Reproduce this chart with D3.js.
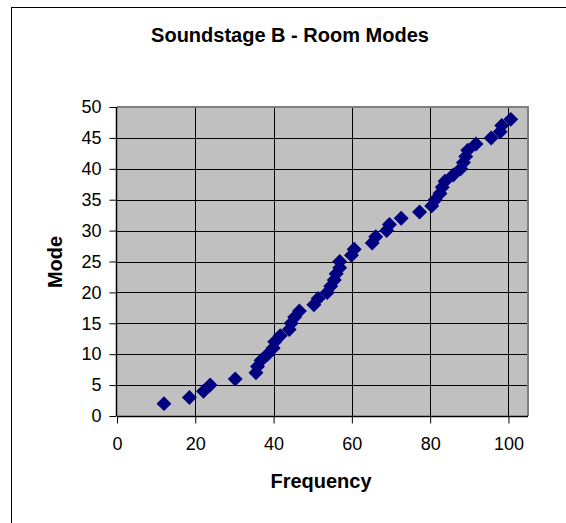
<!DOCTYPE html>
<html>
<head>
<meta charset="utf-8">
<script src="https://cdn.jsdelivr.net/npm/d3@7"></script>
<style>
  body { margin: 0; background: #fff; }
  text { font-family: Arial, "Liberation Sans", sans-serif; }
</style>
</head>
<body>
<div id="chart-container"></div>
<script>
// Room mode data (frequency in Hz, mode number)
const modes = [2, 3, 4, 5, 6, 7, 8, 9, 10, 11, 12, 13, 14, 15, 16, 17, 18, 19, 20, 21, 22, 23, 24, 25,
    26, 27, 28, 29, 30, 31, 32, 33, 34, 35, 36, 37, 38, 39, 40, 41, 42, 43, 44, 45, 46, 47, 48];
const frequencies = [12.0, 18.5, 22.1, 23.8, 30.2, 35.5, 35.9, 36.8, 38.5, 39.9, 40.3, 41.7, 44.0, 44.5,
    45.4, 46.6, 50.3, 51.4, 53.7, 54.6, 55.5, 56.0, 56.9, 56.9, 59.9, 60.6, 65.2, 66.1, 68.9, 69.6,
    72.6, 77.3, 80.4, 81.3, 82.5, 83.1, 83.8, 85.9, 87.8, 88.5, 89.1, 89.6, 91.7, 95.6, 97.9, 98.3, 100.6];
const xTicks = [0, 20, 40, 60, 80, 100];
const yTicks = [0, 5, 10, 15, 20, 25, 30, 35, 40, 45, 50];

const data = modes.map((m, i) => ({ mode: m, freq: frequencies[i] }));

const W = 566, H = 523;
const plot = { left: 117, right: 528, top: 107, bottom: 416 };

const svg = d3.select("#chart-container")
    .append("svg")
    .attr("width", W)
    .attr("height", H);

// chart area border
svg.append("rect")
    .attr("x", 11.5).attr("y", 7.5)
    .attr("width", 620).attr("height", 620)
    .attr("fill", "#fff")
    .attr("stroke", "#000");

const x = d3.scaleLinear().domain([0, 105]).range([plot.left, plot.right]);
const y = d3.scaleLinear().domain([0, 50]).range([plot.bottom, plot.top]);

// plot background
svg.append("rect")
    .attr("x", plot.left).attr("y", plot.top)
    .attr("width", plot.right - plot.left)
    .attr("height", plot.bottom - plot.top)
    .attr("fill", "#c0c0c0");

// gridlines
svg.append("g")
    .selectAll("line")
    .data(yTicks.slice(1, -1))
    .enter()
    .append("line")
    .attr("x1", plot.left).attr("x2", plot.right)
    .attr("y1", d => Math.round(y(d)) + 0.5).attr("y2", d => Math.round(y(d)) + 0.5)
    .attr("stroke", "#000");

svg.append("g")
    .selectAll("line")
    .data(xTicks.slice(1))
    .enter()
    .append("line")
    .attr("y1", plot.top).attr("y2", plot.bottom)
    .attr("x1", d => Math.round(x(d)) + 0.5).attr("x2", d => Math.round(x(d)) + 0.5)
    .attr("stroke", "#000");

// plot border (top/right gray)
svg.append("path")
    .attr("d", `M${plot.left},${plot.top}H${plot.right}V${plot.bottom}`)
    .attr("fill", "none")
    .attr("stroke", "#808080")
    .attr("stroke-width", 2);

// axes
const xAxis = svg.append("g")
    .attr("transform", `translate(0,${plot.bottom + 0.5})`)
    .call(d3.axisBottom(x).tickValues(xTicks).tickSize(7).tickPadding(14).tickFormat(d3.format("d")));
const yAxis = svg.append("g")
    .attr("transform", `translate(${plot.left - 0.5},0)`)
    .call(d3.axisLeft(y).tickValues(yTicks).tickSize(7).tickPadding(8).tickFormat(d3.format("d")));

[xAxis, yAxis].forEach(a => {
    a.select(".domain").attr("stroke", "#000").attr("stroke-width", 1.5);
    a.selectAll(".tick line").attr("stroke", "#000");
    a.selectAll(".tick text")
        .attr("fill", "#000")
        .style("font-size", "18px")
        .style("font-family", "Arial, 'Liberation Sans', sans-serif");
});
xAxis.select(".domain").attr("d", `M${plot.left},0H${plot.right}`);
yAxis.select(".domain").attr("d", `M0,${plot.bottom}V${plot.top}`);

// data markers (diamonds)
svg.append("g")
    .selectAll("path")
    .data(data)
    .enter()
    .append("path")
    .attr("d", d3.symbol(d3.symbolSquare, 112))
    .attr("transform", d => `translate(${x(d.freq)},${y(d.mode)}) rotate(45)`)
    .attr("fill", "#000080");

// title and axis titles
svg.append("text")
    .attr("x", 290).attr("y", 41.5)
    .attr("text-anchor", "middle")
    .style("font-size", "20px").style("font-weight", "bold")
    .text("Soundstage B - Room Modes");

svg.append("text")
    .attr("x", 321).attr("y", 488)
    .attr("text-anchor", "middle")
    .style("font-size", "20px").style("font-weight", "bold")
    .text("Frequency");

svg.append("text")
    .attr("transform", "translate(62,262) rotate(-90)")
    .attr("text-anchor", "middle")
    .style("font-size", "20px").style("font-weight", "bold")
    .text("Mode");
</script>
</body>
</html>
